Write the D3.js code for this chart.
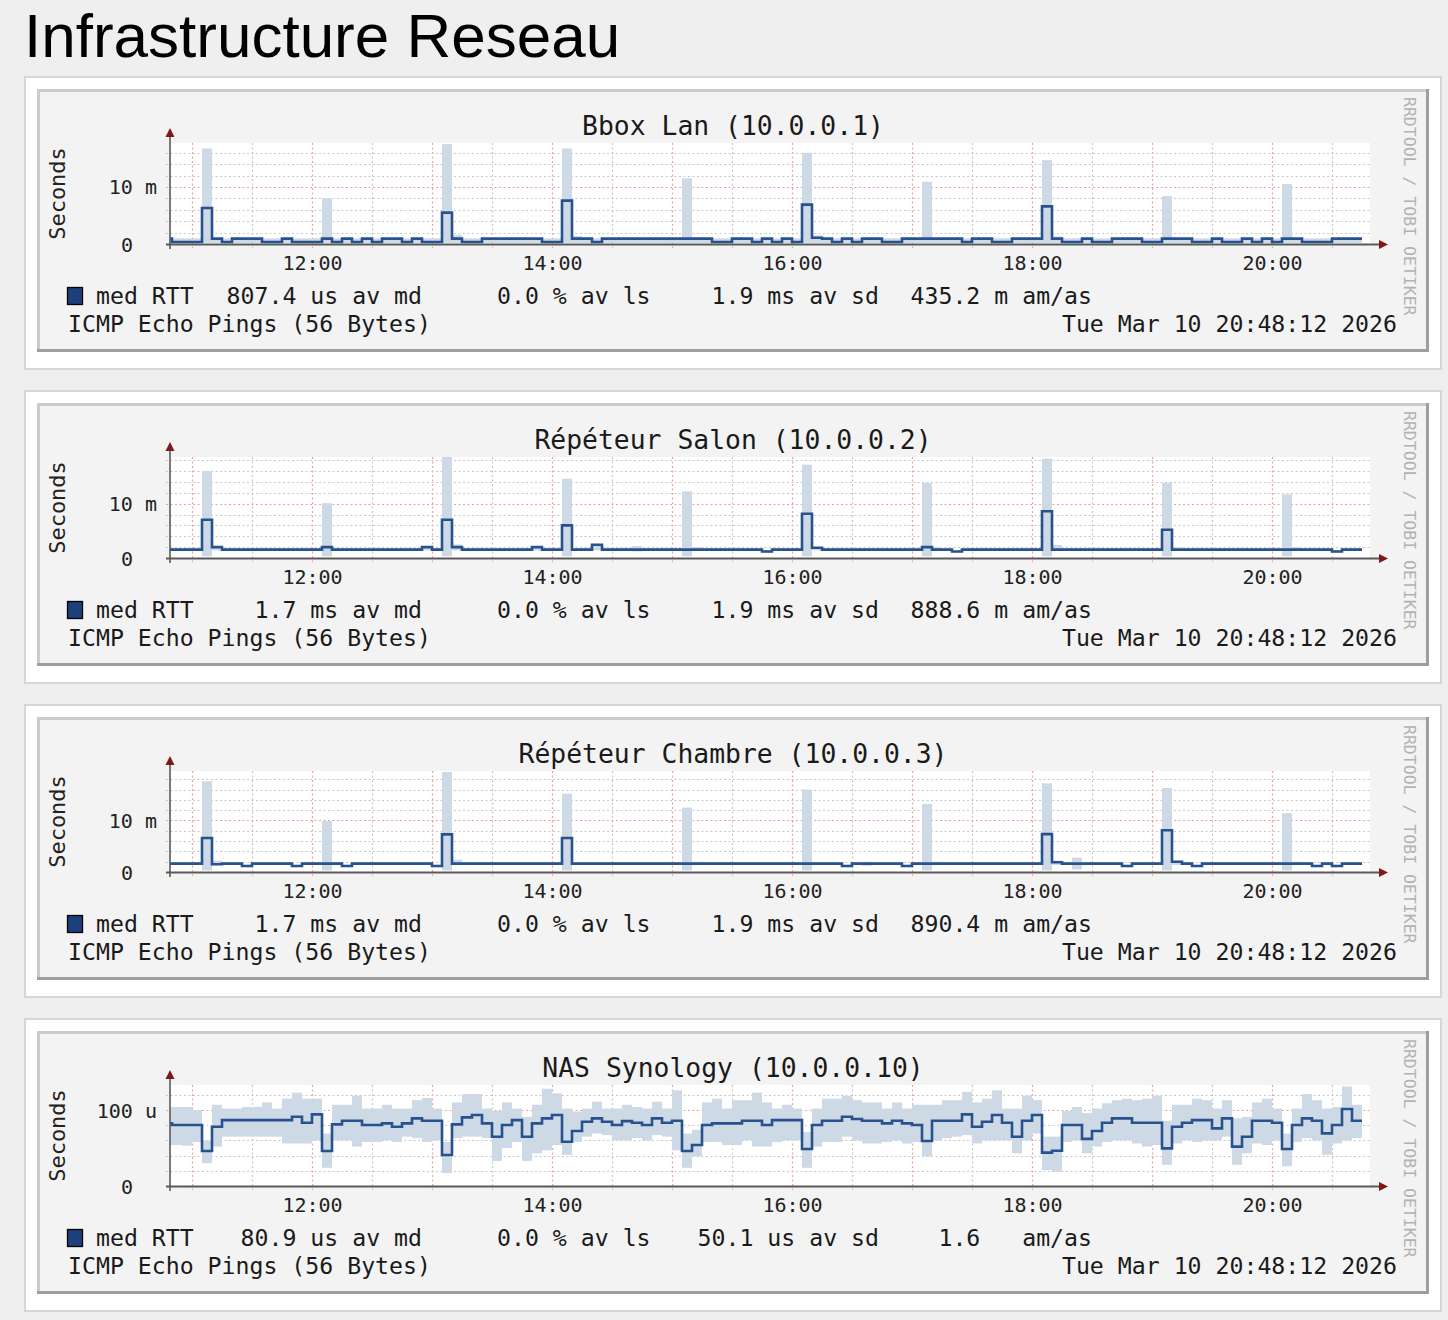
<!DOCTYPE html>
<html><head><meta charset="utf-8">
<script src="https://cdn.jsdelivr.net/npm/d3@7"></script>
<style>
html,body{margin:0;padding:0;background:#efefef;}
svg text{white-space:pre;}
</style></head><body>
<svg id="c" width="1448" height="1320"></svg>
<script>
// ---------------- data ----------------
const pageTitle = "Infrastructure Reseau";
const panelTitles = ["Bbox Lan (10.0.0.1)", "Répéteur Salon (10.0.0.2)", "Répéteur Chambre (10.0.0.3)", "NAS Synology (10.0.0.10)"];
const unitPrefix = ["m", "m", "m", "u"];
const yMax = [17.7, 18.6, 19.6, 133];
const yMajor = [10, 10, 10, 100];
const yMinor = [2, 2, 2, 20];
const legendName = "med RTT";
const legendMedian = ["807.4 us av md", "1.7 ms av md", "1.7 ms av md", "80.9 us av md"];
const legendLoss = ["0.0 % av ls", "0.0 % av ls", "0.0 % av ls", "0.0 % av ls"];
const legendSd = ["1.9 ms av sd", "1.9 ms av sd", "1.9 ms av sd", "50.1 us av sd"];
const legendAmas = ["435.2 m am/as", "888.6 m am/as", "890.4 m am/as", "1.6   am/as"];
const footLeft = "ICMP Echo Pings (56 Bytes)";
const footDate = "Tue Mar 10 20:48:12 2026";
const watermark = "RRDTOOL / TOBI OETIKER";
const yAxisTitle = "Seconds";
const viewStart = new Date(2026, 2, 10, 10, 49);
const viewEnd = new Date(2026, 2, 10, 20, 49);
const firstBucket = new Date(2026, 2, 10, 10, 45); // 5-minute buckets
const bucketMinutes = 5;

// Panel 1 : Bbox Lan (ms)
const med1 = [
.95,.35,.35,.35,6.3,.95,.35,.95,.95,.95,
.35,.35,.95,.35,.35,.35,.95,.35,.95,.35,
.95,.35,.95,.95,.35,.95,.35,.35,5.5,.95,
.35,.35,.95,.95,.95,.95,.95,.95,.35,.35,
7.6,.95,.95,.35,.95,.95,.95,.95,.95,.95,
.95,.95,.95,.95,.95,.35,.35,.95,.95,.35,
.95,.35,.95,.35,6.9,1.1,.95,.35,.95,.35,
.95,.95,.35,.35,.95,.95,.95,.95,.95,.95,
.35,.95,.95,.35,.35,.95,.95,.95,6.6,.95,
.35,.35,.95,.35,.35,.95,.95,.95,.35,.35,
.95,.95,.95,.35,.35,.95,.35,.35,.95,.35,
.95,.35,.95,.95,.35,.35,.35,.95,.95,.95];
const hi1 = [
1,1,1,1,16.75,1,1,1,1,1,
1,1,1,1,1,1,8.0,1,1,1,
1,1,1,1,1,1,1,1,17.5,1.6,
1,1,1,1,1,1,1,1,1,1,
16.75,1.4,1,1,1,1,1,1,1,1,
1,1,11.5,1.2,1,1,1,1,1,1,
1,1,1,1,16.0,1.5,1,1,1,1,
1,1,1,1,1,1,10.9,1,1,1,
1,1,1,1,1,1,1,1,14.7,1.3,
1,1,1,1,1,1,1,1,1,1,
8.4,1,1,1,1,1,1,1,1,1,
1,1,10.5,1,1,1,1,1,1,1];
const lo1 = [
.2,.2,.2,.2,.2,.2,.2,.2,.2,.2,
.2,.2,.2,.2,.2,.2,.2,.2,.2,.2,
.2,.2,.2,.2,.2,.2,.2,.2,.2,.2,
.2,.2,.2,.2,.2,.2,.2,.2,.2,.2,
.2,.2,.2,.2,.2,.2,.2,.2,.2,.2,
.2,.2,.2,.2,.2,.2,.2,.2,.2,.2,
.2,.2,.2,.2,.2,.2,.2,.2,.2,.2,
.2,.2,.2,.2,.2,.2,.2,.2,.2,.2,
.2,.2,.2,.2,.2,.2,.2,.2,.2,.2,
.2,.2,.2,.2,.2,.2,.2,.2,.2,.2,
.2,.2,.2,.2,.2,.2,.2,.2,.2,.2,
.2,.2,.2,.2,.2,.2,.2,.2,.2,.2];

// Panel 2 : Répéteur Salon (ms)
const med2 = [
1.55,1.55,1.55,1.55,7.05,2.0,1.55,1.55,1.55,1.55,
1.55,1.55,1.55,1.55,1.55,1.55,2.0,1.55,1.55,1.55,
1.55,1.55,1.55,1.55,1.55,1.55,2.0,1.55,7.05,2.0,
1.55,1.55,1.55,1.55,1.55,1.55,1.55,2.0,1.55,1.55,
6.0,1.55,1.55,2.45,1.55,1.55,1.55,1.55,1.55,1.55,
1.55,1.55,1.55,1.55,1.55,1.55,1.55,1.55,1.55,1.55,
1.2,1.55,1.55,1.55,8.16,1.9,1.55,1.55,1.55,1.55,
1.55,1.55,1.55,1.55,1.55,1.55,2.0,1.55,1.55,1.2,
1.55,1.55,1.55,1.55,1.55,1.55,1.55,1.55,8.6,1.55,
1.55,1.55,1.55,1.55,1.55,1.55,1.55,1.55,1.55,1.55,
5.2,1.55,1.55,1.55,1.55,1.55,1.55,1.55,1.55,1.55,
1.55,1.55,1.55,1.55,1.55,1.55,1.55,1.2,1.55,1.55];
const hi2 = [
1.8,1.8,1.8,1.8,16.0,2.1,1.8,1.8,1.8,1.8,
1.8,1.8,1.8,1.8,1.8,1.8,10.1,1.8,1.8,1.8,
1.8,1.8,1.8,1.8,1.8,1.8,2.1,1.8,18.6,2.5,
1.8,1.8,1.8,1.8,1.8,1.8,1.8,2.1,1.8,1.8,
14.6,1.8,1.8,2.6,1.8,1.8,1.8,2.2,1.8,1.8,
1.8,1.8,12.3,2.0,1.8,1.8,1.8,1.8,1.8,1.8,
1.4,1.8,1.8,1.8,17.2,2.0,1.8,1.8,1.8,1.8,
1.8,1.8,1.8,1.8,1.8,1.8,13.8,2.0,1.8,1.4,
1.8,1.8,1.8,1.8,1.8,1.8,1.8,1.8,18.3,2.4,
1.8,1.8,1.8,1.8,1.8,1.8,1.8,1.8,1.8,1.8,
13.8,2.0,1.8,1.8,1.8,1.8,1.8,1.8,1.8,1.8,
1.8,1.8,11.7,2.0,1.8,1.8,1.8,1.4,1.8,1.8];
const lo2 = [
1.4,1.4,1.4,1.4,0.3,1.4,1.4,1.4,1.4,1.4,
1.4,1.4,1.4,1.4,1.4,1.4,0.3,1.4,1.4,1.4,
1.4,1.4,1.4,1.4,1.4,1.4,1.4,1.4,0.3,1.4,
1.4,1.4,1.4,1.4,1.4,1.4,1.4,1.4,1.4,1.4,
0.3,1.4,1.4,1.4,1.4,1.4,1.4,1.2,1.4,1.4,
1.4,1.4,0.3,1.4,1.4,1.4,1.4,1.4,1.4,1.4,
1.0,1.4,1.4,1.4,0.3,1.4,1.4,1.4,1.4,1.4,
1.4,1.4,1.4,1.4,1.4,1.4,0.3,1.4,1.4,1.0,
1.4,1.4,1.4,1.4,1.4,1.4,1.4,1.4,0.3,1.4,
1.4,1.4,1.4,1.4,1.4,1.4,1.4,1.4,1.4,1.4,
0.3,1.4,1.4,1.4,1.4,1.4,1.4,1.4,1.4,1.4,
1.4,1.4,0.3,1.4,1.4,1.4,1.4,1.0,1.4,1.4];

// Panel 3 : Répéteur Chambre (ms)
const med3 = [
1.62,1.62,1.62,1.62,6.6,1.5,1.62,1.62,1.16,1.62,
1.62,1.62,1.62,1.16,1.62,1.62,1.62,1.62,1.16,1.62,
1.62,1.62,1.62,1.62,1.62,1.62,1.62,1.16,7.3,1.62,
1.62,1.62,1.62,1.62,1.62,1.62,1.62,1.62,1.62,1.62,
6.6,1.62,1.62,1.62,1.62,1.62,1.62,1.62,1.62,1.62,
1.62,1.62,1.62,1.62,1.62,1.62,1.62,1.62,1.62,1.62,
1.62,1.62,1.62,1.62,1.62,1.62,1.62,1.62,1.16,1.62,
1.62,1.62,1.62,1.62,1.16,1.62,1.62,1.62,1.62,1.62,
1.62,1.62,1.62,1.62,1.62,1.62,1.62,1.62,7.35,1.9,
1.62,1.62,1.62,1.62,1.62,1.62,1.16,1.62,1.62,1.62,
8.1,2.0,1.62,1.16,1.62,1.62,1.62,1.62,1.62,1.62,
1.62,1.62,1.62,1.62,1.62,1.16,1.62,1.16,1.62,1.62];
const hi3 = [
1.9,1.9,1.9,1.9,17.6,2.2,1.9,1.9,1.4,1.9,
1.9,1.9,1.9,1.4,1.9,1.9,9.9,1.9,1.4,1.9,
1.9,1.9,1.9,1.9,1.9,1.9,1.9,1.4,19.4,2.4,
1.9,1.9,1.9,1.9,1.9,1.9,1.9,1.9,1.9,1.9,
15.2,1.9,1.9,1.9,1.9,1.9,1.9,1.9,1.9,1.9,
1.9,1.9,12.5,2.0,1.9,1.9,1.9,1.9,1.9,1.9,
1.9,1.9,1.9,1.9,16.0,1.9,1.9,1.9,1.4,1.9,
2.0,1.9,1.9,1.9,1.4,1.9,13.2,2.0,1.9,1.9,
1.9,1.9,1.9,1.9,1.9,1.9,1.9,1.9,17.2,2.2,
1.9,2.8,1.9,1.9,1.9,1.9,1.4,1.9,1.9,1.9,
16.3,2.2,1.9,1.4,1.9,1.9,1.9,1.9,1.9,1.9,
1.9,1.9,11.4,2.0,1.9,1.4,1.9,1.4,1.9,1.9];
const lo3 = [
1.35,1.35,1.35,1.35,0.3,1.35,1.35,1.35,0.95,1.35,
1.35,1.35,1.35,0.95,1.35,1.35,0.3,1.35,0.95,1.35,
1.35,1.35,1.35,1.35,1.35,1.35,1.35,0.95,0.3,1.35,
1.35,1.35,1.35,1.35,1.35,1.35,1.35,1.35,1.35,1.35,
0.3,1.35,1.35,1.35,1.35,1.35,1.35,1.35,1.35,1.35,
1.35,1.35,0.3,1.35,1.35,1.35,1.35,1.35,1.35,1.35,
1.35,1.35,1.35,1.35,0.3,1.35,1.35,1.35,0.95,1.35,
1.2,1.35,1.35,1.35,0.95,1.35,0.3,1.35,1.35,1.35,
1.35,1.35,1.35,1.35,1.35,1.35,1.35,1.35,0.3,1.35,
1.35,0.5,1.35,1.35,1.35,1.35,0.95,1.35,1.35,1.35,
0.3,1.35,1.35,0.95,1.35,1.35,1.35,1.35,1.35,1.35,
1.35,1.35,0.3,1.35,1.35,0.95,1.35,0.95,1.35,1.35];

// Panel 4 : NAS Synology (us)
const med4 = [
82.5,80.3,80.3,80.3,46,78.1,86.8,86.8,86.8,86.8,
86.8,86.8,86.8,91.2,83.3,94.3,46,81.1,86,86,
80.3,80.3,82.5,78.1,82.5,89,86,86,40.8,81.1,
90.4,93.4,82.5,64.9,80.3,86.8,64.9,82.5,89,93.4,
58.3,72.4,84.6,89,84.6,80.3,85.4,83.3,80.3,89,
83.3,86,46,53.9,80.3,82.5,82.5,82.5,86,86,
80.3,86.8,86.8,86.8,48.7,80.3,86,86,91.2,88.2,
86,86,82.5,86,82.5,80.3,59.2,86,86,86,
94.3,78.1,84.6,93.4,83.3,64.9,86,93.4,43.9,46.5,
80.3,80.3,62,72.4,83.3,89,89,83.3,83.3,83.3,
49.6,78.1,83.3,86.8,86.8,75.9,89,51.8,64.9,86,
86,83.3,48.7,80.3,89,86,69.3,80.3,101.3,86];
const hi4 = [
104,104,104,100,60,107,102,102,104,104,
110,102,115,123,115,115,69,107,107,119,
102,102,107,102,102,113,116,102,58,110,
121,121,102,99,110,102,91,107,128,122,
102,98,102,111,102,102,107,104,102,111,
102,126,69,74,110,115,102,113,113,123,
110,102,107,102,71,102,115,115,119,113,
110,110,102,110,102,107,107,107,113,113,
124,110,115,126,102,102,119,113,65,65,
99,104,96,102,109,113,115,113,115,119,
86,107,107,115,113,102,113,89,91,110,
115,102,69,102,121,113,102,104,131,107];
const lo4 = [
54,54,53,58,30,52,65,65,65,65,
65,65,56,56,56,60,24,60,60,52,
58,58,60,58,65,63,58,60,17,63,
65,65,63,33,50,58,33,43,47,54,
41,58,65,69,67,60,60,63,60,67,
65,47,24,39,58,58,54,54,60,52,
52,58,60,60,24,52,58,58,65,60,
56,56,58,60,56,58,39,60,63,65,
67,56,60,60,60,43,60,69,21,19,
58,60,43,52,58,60,60,56,52,54,
28,56,60,58,60,60,65,28,43,56,
54,60,26,58,63,60,41,56,60,63];

const medians = [med1, med2, med3, med4];
const smokeHi = [hi1, hi2, hi3, hi4];
const smokeLo = [lo1, lo2, lo3, lo4];

// ---------------- drawing ----------------
const svg = d3.select("#c");
const MONO = "'DejaVu Sans Mono', monospace";
const PANEL_DY = 314;
const plotL = 170, plotR = 1370, plotT = 143, plotB = 244;

svg.append("rect").attr("width", 1448).attr("height", 1320).attr("fill", "#efefef");
svg.append("text").attr("x", 24).attr("y", 57)
  .attr("font-family", "'Liberation Sans', Arial, Helvetica, sans-serif")
  .attr("font-size", 62).attr("fill", "#000").text(pageTitle);

const x = d3.scaleTime().domain([viewStart, viewEnd]).range([plotL, plotR]);
const bucketTime = k => d3.timeMinute.offset(firstBucket, k * bucketMinutes);

panelTitles.forEach((title, p) => {
  const g = svg.append("g").attr("transform", `translate(0,${p * PANEL_DY})`);
  const y = d3.scaleLinear().domain([0, yMax[p]]).range([plotB, plotT]);

  // frames
  g.append("rect").attr("x", 25).attr("y", 77).attr("width", 1416).attr("height", 292)
    .attr("fill", "#ffffff").attr("stroke", "#d6d6d6").attr("stroke-width", 2);
  g.append("rect").attr("x", 37).attr("y", 89).attr("width", 1392).attr("height", 263).attr("fill", "#f3f3f3");
  g.append("rect").attr("x", 37).attr("y", 89).attr("width", 1392).attr("height", 3).attr("fill", "#cbcbcb");
  g.append("rect").attr("x", 37).attr("y", 89).attr("width", 3).attr("height", 263).attr("fill", "#cbcbcb");
  g.append("rect").attr("x", 37).attr("y", 349).attr("width", 1392).attr("height", 3).attr("fill", "#9e9e9e");
  g.append("rect").attr("x", 1426).attr("y", 89).attr("width", 3).attr("height", 263).attr("fill", "#9e9e9e");

  // canvas
  g.append("rect").attr("x", plotL).attr("y", plotT).attr("width", plotR - plotL).attr("height", plotB - plotT)
    .attr("fill", "#ffffff");

  // grid verticals
  const halfHours = d3.timeMinute.every(30).range(viewStart, viewEnd);
  halfHours.forEach(t => {
    const major = t.getMinutes() === 0;
    const xx = Math.round(x(t)) + 0.5;
    g.append("line").attr("x1", xx).attr("x2", xx).attr("y1", plotT).attr("y2", plotB + 4)
      .attr("stroke", major ? "#f0a0a0" : "#c8c8c8").attr("stroke-width", 1.2)
      .attr("stroke-dasharray", "2,2.5");
  });
  // grid horizontals
  d3.range(yMinor[p], yMax[p], yMinor[p]).forEach(v => {
    const major = Math.abs(v % yMajor[p]) < 1e-9;
    const yy = Math.round(y(v)) + 0.5;
    g.append("line").attr("x1", plotL - 4).attr("x2", plotR).attr("y1", yy).attr("y2", yy)
      .attr("stroke", major ? "#f0a0a0" : "#c8c8c8").attr("stroke-width", 1.2)
      .attr("stroke-dasharray", "2,2.5");
  });

  // clip
  const clipId = `clip${p}`;
  g.append("clipPath").attr("id", clipId).append("rect")
    .attr("x", plotL).attr("y", plotT).attr("width", plotR - plotL).attr("height", plotB - plotT);
  const area = g.append("g").attr("clip-path", `url(#${clipId})`);

  // smoke
  const med = medians[p];
  area.selectAll("rect.smoke").data(med).join("rect").attr("class", "smoke")
    .attr("x", (d, k) => x(bucketTime(k)))
    .attr("width", (d, k) => x(bucketTime(k + 1)) - x(bucketTime(k)))
    .attr("y", (d, k) => y(smokeHi[p][k]))
    .attr("height", (d, k) => Math.max(0, y(smokeLo[p][k]) - y(smokeHi[p][k])))
    .attr("fill", "#cdd9e5");

  // median line
  const pts = med.map((v, k) => [bucketTime(k), v]);
  pts.push([bucketTime(med.length), med[med.length - 1]]);
  const line = d3.line().x(d => x(d[0])).y(d => y(d[1])).curve(d3.curveStepAfter);
  area.append("path").attr("d", line(pts)).attr("fill", "none")
    .attr("stroke", "#27528e").attr("stroke-width", 2.6).attr("stroke-linejoin", "miter");

  // axes lines
  g.append("line").attr("x1", plotL - 4).attr("x2", plotR + 10).attr("y1", plotB + 0.5).attr("y2", plotB + 0.5)
    .attr("stroke", "#5a5a5a").attr("stroke-width", 2);
  g.append("path").attr("d", `M${plotR + 18},${plotB + 0.5}L${plotR + 9},${plotB - 4}L${plotR + 9},${plotB + 5}Z`).attr("fill", "#7f1818");
  g.append("line").attr("x1", plotL).attr("x2", plotL).attr("y1", plotB + 5).attr("y2", plotT - 8)
    .attr("stroke", "#5a5a5a").attr("stroke-width", 1.6);
  g.append("path").attr("d", `M${plotL},${plotT - 15}L${plotL - 4.5},${plotT - 6}L${plotL + 4.5},${plotT - 6}Z`).attr("fill", "#7f1818");

  // y tick labels
  const yAxis = d3.axisLeft(y).tickValues([0, yMajor[p]]).tickSize(0).tickPadding(0)
    .tickFormat(v => v === 0 ? "0  " : `${v} ${unitPrefix[p]}`);
  const ya = g.append("g").attr("transform", `translate(157,0)`).call(yAxis);
  ya.select(".domain").remove();
  ya.selectAll("text").attr("font-family", MONO).attr("font-size", 20).attr("fill", "#222")
    .attr("dy", "0.35em");

  // x tick labels
  const xAxis = d3.axisBottom(x).tickValues(d3.timeHour.every(2).range(viewStart, viewEnd))
    .tickSize(0).tickFormat(d3.timeFormat("%H:%M"));
  const xa = g.append("g").attr("transform", `translate(0,${plotB})`).call(xAxis);
  xa.select(".domain").remove();
  xa.selectAll("text").attr("font-family", MONO).attr("font-size", 20).attr("fill", "#222")
    .attr("y", 26).attr("dy", 0);

  // titles
  g.append("text").attr("x", 733).attr("y", 135).attr("text-anchor", "middle")
    .attr("font-family", MONO).attr("font-size", 26.4).attr("fill", "#1a1a1a").text(title);
  g.append("text").attr("transform", `translate(65,${(plotT + plotB) / 2}) rotate(-90)`)
    .attr("text-anchor", "middle").attr("font-family", MONO).attr("font-size", 22).attr("fill", "#222")
    .text(yAxisTitle);
  g.append("text").attr("transform", `translate(1404,97) rotate(90)`)
    .attr("font-family", MONO).attr("font-size", 16.5).attr("fill", "#b2b2b2").text(watermark);

  // legend
  g.append("rect").attr("x", 67.5).attr("y", 287.5).attr("width", 15).attr("height", 17)
    .attr("fill", "#1d3f7c").attr("stroke", "#000").attr("stroke-width", 1.3);
  const lt = (xx, yy, s, anchor) => g.append("text").attr("x", xx).attr("y", yy)
    .attr("text-anchor", anchor).attr("font-family", MONO).attr("font-size", 23.2).attr("fill", "#1a1a1a").text(s);
  lt(96, 304, legendName, "start");
  lt(422, 304, legendMedian[p], "end");
  lt(497, 304, legendLoss[p], "start");
  lt(879, 304, legendSd[p], "end");
  lt(1092, 304, legendAmas[p], "end");
  lt(68, 332, footLeft, "start");
  lt(1397, 332, footDate, "end");
});
</script>
</body></html>
